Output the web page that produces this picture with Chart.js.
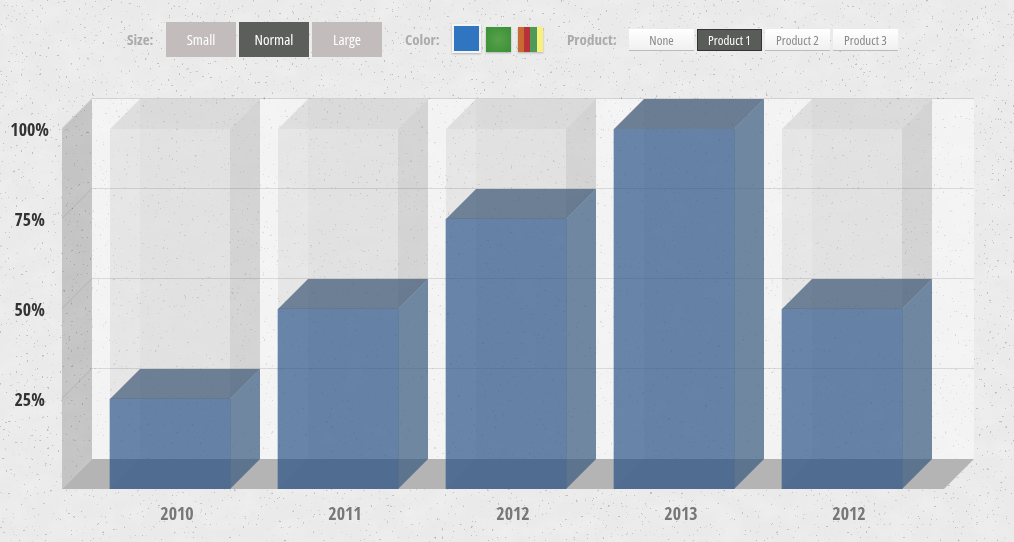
<!DOCTYPE html>
<html><head><meta charset="utf-8">
<script src="https://cdn.jsdelivr.net/npm/chart.js@4"></script>
<style>
html,body{margin:0;padding:0;width:1014px;height:542px;overflow:hidden;background:#ececec}
#tex{position:absolute;left:0;top:0;width:1014px;height:542px}
#wrap{position:absolute;left:0;top:0;width:1014px;height:542px}
.ui{position:absolute;font-family:"Open Sans",sans-serif;font-stretch:75%;white-space:nowrap;text-align:center;box-sizing:border-box}
.lab{font-weight:700;font-size:15px;color:#ababab;line-height:20px;top:29px;text-align:left}
.sz{top:22px;height:35px;width:70px;line-height:35px;font-size:15px;font-weight:400;color:#fff;background:#c2bcbc}
.sz.on{background:#5c5e5c}
.sw{box-shadow:0 1px 2px rgba(0,0,0,.25)}
.pr{top:29px;height:22px;width:65px;line-height:22px;font-size:13px;font-weight:400;color:#888;background:linear-gradient(#fff,#f0f0f0);border-bottom:1px solid #bbb}
.pr.on{background:#5a5c5a;color:#fff;border:1px solid #333;line-height:20px}
</style></head>
<body>
<svg id="tex" xmlns="http://www.w3.org/2000/svg">
<filter id="mott" x="0" y="0" width="100%" height="100%"><feTurbulence type="fractalNoise" baseFrequency="0.035 0.05" numOctaves="4" seed="7"/><feColorMatrix values="0 0 0 0 1 0 0 0 0 1 0 0 0 0 1 0 0 0 1.2 -0.45"/></filter>
<filter id="sp" x="0" y="0" width="100%" height="100%"><feTurbulence type="fractalNoise" baseFrequency="0.38" numOctaves="2" seed="11"/><feColorMatrix values="0 0 0 0 0.35 0 0 0 0 0.35 0 0 0 0 0.35 0 0 0 16 -11.6"/></filter>
<rect width="1014" height="542" fill="#eaeaea"/>
<rect width="1014" height="542" filter="url(#mott)" opacity=".35"/>
<rect width="1014" height="542" filter="url(#sp)" opacity=".6"/>
</svg>
<div id="wrap"><canvas id="c" width="1014" height="542"></canvas></div>
<div class="ui lab" style="left:127px">Size:</div>
<div class="ui sz" style="left:166px">Small</div>
<div class="ui sz on" style="left:239px">Normal</div>
<div class="ui sz" style="left:312px">Large</div>
<div class="ui lab" style="left:405px">Color:</div>
<div class="ui sw" style="left:452px;top:24px;width:29px;height:29px;border:2px solid #f4f4f4;background:#2f75c0"></div>
<div class="ui sw" style="left:486px;top:27px;width:25px;height:25px;background:radial-gradient(#5aa04a,#379035)"></div>
<div class="ui sw" style="left:518px;top:27px;width:25px;height:25px;background:linear-gradient(90deg,#c96a33 0 6px,#b8323a 6px 12px,#4f9a5a 12px 19px,#f8f27a 19px)"></div>
<div class="ui lab" style="left:567px">Product:</div>
<div class="ui pr" style="left:629px">None</div>
<div class="ui pr on" style="left:697px">Product 1</div>
<div class="ui pr" style="left:765px">Product 2</div>
<div class="ui pr" style="left:833px">Product 3</div>
<script>
const categories = ['2010','2011','2012','2013','2012'];
const values = [25,50,75,100,50];
const yTicks = [0,25,50,75,100];
const FONT = '"Open Sans Condensed","Liberation Sans Narrow","Open Sans",sans-serif';
const D = 30;
function poly(ctx, pts, fill){ctx.beginPath();pts.forEach((p,i)=>i?ctx.lineTo(p[0],p[1]):ctx.moveTo(p[0],p[1]));ctx.closePath();ctx.fillStyle=fill;ctx.fill();}
function box(ctx,l,r,top,bot,c){
  poly(ctx,[[l+D,top-D],[r+D,top-D],[r+D,bot-D],[l+D,bot-D]],c.back);
  poly(ctx,[[l,bot],[r,bot],[r+D,bot-D],[l+D,bot-D]],c.bottom);
}
function box2(ctx,l,r,top,bot,c){
  poly(ctx,[[r,top],[r+D,top-D],[r+D,bot-D],[r,bot]],c.side);
  poly(ctx,[[l,top],[l+D,top-D],[r+D,top-D],[r,top]],c.top);
}
const TRACK={back:'rgba(0,0,0,.02)',bottom:'rgba(0,0,0,0)',side:'rgba(0,0,0,.115)',top:'rgba(0,0,0,.085)',front:'rgba(0,0,0,.055)'};
const BAR={back:'rgba(29,74,132,.012)',bottom:'rgba(29,74,132,.03)',side:'rgba(60,95,135,.66)',top:'rgba(60,85,115,.70)'};
const scene={
  id:'scene',
  beforeDraw(ch){ch.ctx.fontStretch='condensed';},
  beforeDatasetsDraw(ch){
    const ctx=ch.ctx,y=ch.scales.y,x=ch.scales.x;
    const bot=y.getPixelForValue(0),top=y.getPixelForValue(100),L=x.left-24,R=x.right+18;
    ctx.save();
    poly(ctx,[[L+D,top-D],[R+D,top-D],[R+D,bot-D],[L+D,bot-D]],'rgba(255,255,255,.42)');
    poly(ctx,[[L,top],[L+D,top-D],[L+D,bot-D],[L,bot]],'rgba(0,0,0,.16)');
    poly(ctx,[[L,bot],[L+D,bot-D],[R+D,bot-D],[R,bot]],'#b4b4b4');
    ctx.lineWidth=1;ctx.strokeStyle='rgba(0,0,0,.11)';
    yTicks.slice(1).forEach(v=>{const p=Math.round(y.getPixelForValue(v))-.5;
      ctx.beginPath();ctx.moveTo(L,p);ctx.lineTo(L+D,p-D);ctx.lineTo(R+D,p-D);ctx.stroke();});
    const m=ch.getDatasetMeta(0);
    m.data.forEach((b,i)=>{const l=b.x-b.width/2,r=b.x+b.width/2;
      box(ctx,l,r,top,bot,TRACK);
      poly(ctx,[[l,top],[r,top],[r,bot],[l,bot]],TRACK.front);
      box2(ctx,l,r,top,bot,TRACK);
      box(ctx,l,r,b.y,bot,BAR);
    });
    ctx.restore();
  },
  afterDatasetsDraw(ch){
    const ctx=ch.ctx,y=ch.scales.y,bot=y.getPixelForValue(0);
    ctx.save();
    ch.getDatasetMeta(0).data.forEach(b=>{const l=b.x-b.width/2,r=b.x+b.width/2;box2(ctx,l,r,b.y,bot,BAR);});
    ctx.restore();
  }
};
new Chart(document.getElementById('c'),{
  type:'bar',
  data:{labels:categories,datasets:[{data:values,backgroundColor:'rgba(28,73,130,.62)',borderWidth:0,barThickness:120}]},
  options:{
    responsive:false,animation:false,devicePixelRatio:1,
    layout:{padding:{left:0,top:129,right:88,bottom:0}},
    plugins:{legend:{display:false},tooltip:{enabled:false}},
    scales:{
      x:{grid:{display:false,drawTicks:false},border:{display:false},
        afterFit(s){s.height=53;},
        ticks:{color:'#777',padding:15,labelOffset:7,maxRotation:0,font:{family:FONT,weight:'700',size:18}}},
      y:{min:0,max:100,grid:{display:false,drawTicks:false},border:{display:false},
        afterFit(s){s.width=86;},
        afterBuildTicks(s){s.ticks=yTicks.map(v=>({value:v}));},
        ticks:{color:'#333',padding:37,labelOffset:2,crossAlign:'center',callback:v=>v===0?'':v+'%',font:{family:FONT,weight:'700',size:18}}}
    }
  },
  plugins:[scene]
});
</script>
</body></html>
